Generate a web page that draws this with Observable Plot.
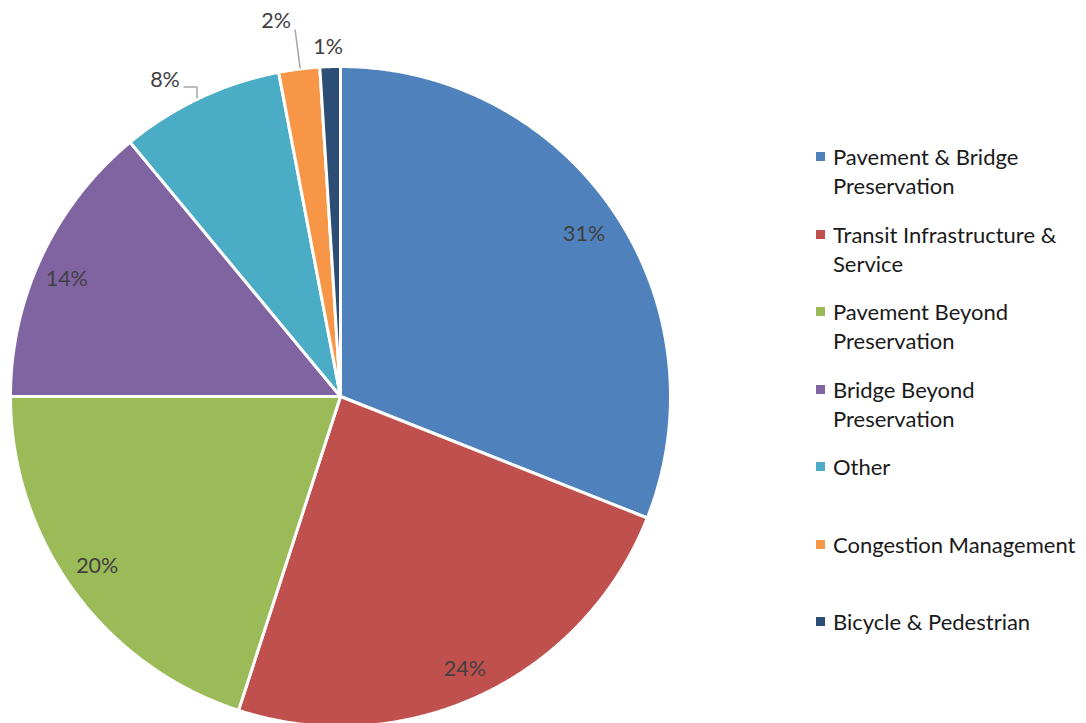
<!DOCTYPE html>
<html><head><meta charset="utf-8">
<script src="https://cdn.jsdelivr.net/npm/d3@7"></script>
<script src="https://cdn.jsdelivr.net/npm/@observablehq/plot@0.6"></script>
<style>
body{margin:0;background:#fff;}
#wrap{position:relative;width:1086px;height:723px;overflow:hidden;}
#legend{position:absolute;left:0;top:0;font-family:Lato,"Open Sans",sans-serif;font-size:22px;color:#1a1a1a;}
.item{position:absolute;left:833px;width:260px;line-height:29px;white-space:nowrap;}
.sw{position:absolute;left:-17px;top:10px;width:9px;height:9px;}
</style></head><body><div id="wrap"></div>
<script>
const categories = ["Pavement & Bridge Preservation","Transit Infrastructure & Service","Pavement Beyond Preservation","Bridge Beyond Preservation","Other","Congestion Management","Bicycle & Pedestrian"];
const legendLines = [["Pavement & Bridge","Preservation"],["Transit Infrastructure &","Service"],["Pavement Beyond","Preservation"],["Bridge Beyond","Preservation"],["Other"],["Congestion Management"],["Bicycle & Pedestrian"]];
const shares = [31,24,20,14,8,2,1];
const colors = ["#4F81BD","#C0504D","#9BBB59","#8064A2","#4BACC6","#F79646","#2C4D75"];

const W=1086, H=723, cx=340, cy=396, R=330;
const total = d3.sum(shares);
let acc = 0;
const slices = shares.map((v,i)=>{const a0=acc/total*2*Math.PI; acc+=v; const a1=acc/total*2*Math.PI; return {i,cat:categories[i],v,a0,a1,mid:(a0+a1)/2,label:v+"%"};});

function arcPts(s){
  const p=[{x:0,y:0}];
  const n=Math.max(4,Math.ceil((s.a1-s.a0)/0.004));
  for(let k=0;k<=n;k++){const a=s.a0+(s.a1-s.a0)*k/n; p.push({x:Math.sin(a),y:Math.cos(a)});}
  p.push({x:0,y:0});
  return p;
}
// label placement styling: pixel offsets from the slice's edge point (outside) or from 0.9R (inside)
const px = (dx,dy)=>({dx:dx/R, dy:-dy/R});
const callout = {
  4: {path:[[-3,0],[-3,-11],[-16,-11]], label:[-35,-18]},
  5: {path:[[1,-1],[-4,-39]], label:[-23,-48]},
  6: {path:[], label:[-2,-20]},
};
const nudge = {0:[-2,5],1:[-2,4],2:[-3,-5],3:[-5,9]};
const inside=[], outsideLabels=[], leaders=[];
for(const s of slices){
  const ex=Math.sin(s.mid), ey=Math.cos(s.mid);
  if(callout[s.i]){
    const c=callout[s.i];
    c.path.forEach(([dx,dy])=>{const o=px(dx,dy); leaders.push({k:s.i,x:ex+o.dx,y:ey+o.dy});});
    const o=px(c.label[0],c.label[1]); outsideLabels.push({x:ex+o.dx,y:ey+o.dy,label:s.label});
  } else {
    const n=nudge[s.i]||[0,0]; const o=px(n[0],n[1]);
    inside.push({x:0.9*ex+o.dx,y:0.9*ey+o.dy,label:s.label});
  }
}

const marks = slices.map(s=>Plot.line(arcPts(s),{x:"x",y:"y",fill:colors[s.i],stroke:"white",strokeWidth:3,strokeLinejoin:"round"}));
marks.push(Plot.line(leaders,{x:"x",y:"y",z:"k",stroke:"#a6a6a6",strokeWidth:1.5}));
marks.push(Plot.text(inside,{x:"x",y:"y",text:"label",fill:"#404040",fontSize:21.5}));
marks.push(Plot.text(outsideLabels,{x:"x",y:"y",text:"label",fill:"#404040",fontSize:21.5}));

const chart = Plot.plot({
  width:W, height:H, margin:0,
  style:{fontFamily:"Lato, 'Open Sans', sans-serif", background:"#fff"},
  x:{axis:null, domain:[-cx/R,(W-cx)/R]},
  y:{axis:null, domain:[-(H-cy)/R, cy/R]},
  marks
});
const wrap=document.getElementById("wrap");
wrap.appendChild(chart);
const leg=document.createElement("div"); leg.id="legend";
legendLines.forEach((lines,i)=>{
  const it=document.createElement("div"); it.className="item";
  it.style.top=(157+i*77.5-15)+"px";
  it.innerHTML=`<span class="sw" style="background:${colors[i]}"></span>`+lines.map(t=>t.replace(/&/g,"&amp;")).join("<br>");
  leg.appendChild(it);
});
wrap.appendChild(leg);
</script></body></html>
